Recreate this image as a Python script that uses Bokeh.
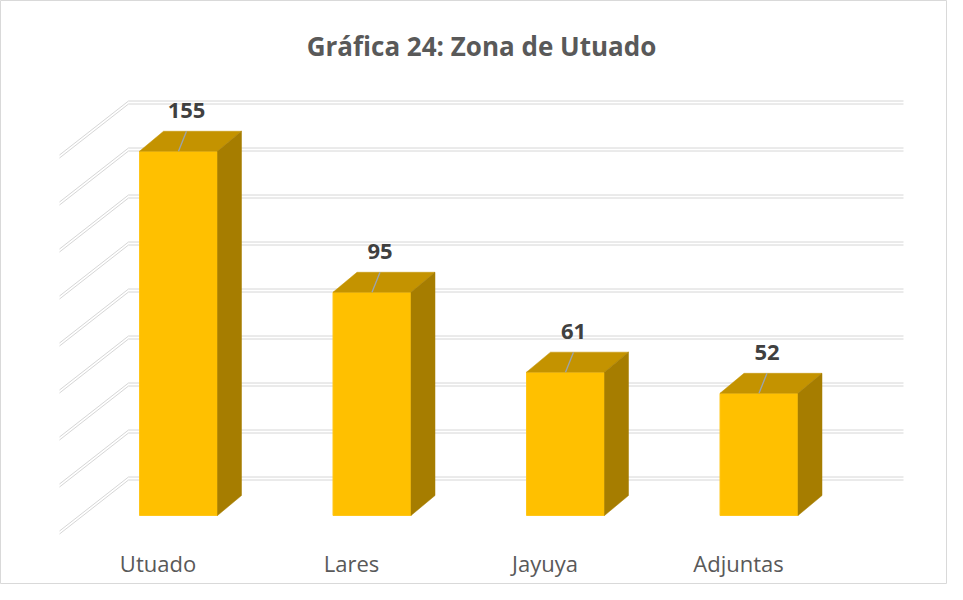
from bokeh.plotting import figure
from bokeh.models import Range1d, ColumnDataSource
from bokeh.embed import file_html
from bokeh.resources import INLINE
from bokeh.core.properties import value

# ---- data ----
categories = ["Utuado", "Lares", "Jayuya", "Adjuntas"]
counts = [155, 95, 61, 52]
grid_values = [0, 20, 40, 60, 80, 100, 120, 140, 160]
title_text = "Gráfica 24: Zona de Utuado"

# ---- layout constants (data units: x = category index, y = value) ----
PX_X = 193.5          # pixels per category unit
PX_Y = 2.35           # pixels per value unit
X0 = 178              # pixel of first category (front face centre)
Y0 = 478              # pixel of value 0 on back wall
W = 78 / PX_X         # bar front width
DDX = 24 / PX_X       # bar depth offset x
DDY = 20 / PX_Y       # bar depth offset y
FRONT_BASE = -37 / PX_Y   # front face baseline (floor projection)
WALL_X0 = (128 - X0) / PX_X   # back wall left edge
WALL_X1 = (903 - X0) / PX_X   # back wall right edge
SIDE_DX = -69 / PX_X           # left wall depth x
SIDE_DY = -54 / PX_Y           # left wall depth y
DOUBLE = 1.5 / PX_Y            # half gap of double grid lines
TEXT_FIX = 10 / PX_Y           # compensation for svg text baseline

FONT = "Open Sans"
WIDTH, HEIGHT = 947, 584

p = figure(width=WIDTH, height=HEIGHT, output_backend="svg", toolbar_location=None,
           x_range=Range1d((0 - X0) / PX_X, (WIDTH - X0) / PX_X),
           y_range=Range1d((Y0 - HEIGHT) / PX_Y, Y0 / PX_Y),
           x_axis_location=None, y_axis_location=None, min_border=0)
p.grid.visible = False
p.outline_line_color = "#D9D9D9"
p.background_fill_color = "white"
p.border_fill_color = "white"

# ---- back wall grid lines (double thin lines) ----
gx, gy = [], []
for g in grid_values:
    for s in (DOUBLE, -DOUBLE):
        gx.append([WALL_X0, WALL_X1])
        gy.append([g + s, g + s])
        gx.append([WALL_X0, WALL_X0 + SIDE_DX])
        gy.append([g + s, g + s + SIDE_DY])
p.multi_line(gx, gy, line_color="#D6D6D6", line_width=1)

# ---- bars ----
xs = list(range(len(categories)))
left = [x - W / 2 for x in xs]
right = [x + W / 2 for x in xs]
tops = [FRONT_BASE + c for c in counts]

front = ColumnDataSource(dict(left=left, right=right, top=tops,
                              bottom=[FRONT_BASE] * len(xs)))
p.quad(left="left", right="right", top="top", bottom="bottom", source=front,
       fill_color="#FFC000", line_color="#FFC61A", line_width=1)

top_xs = [[l, r, r + DDX, l + DDX] for l, r in zip(left, right)]
top_ys = [[t, t, t + DDY, t + DDY] for t in tops]
p.patches(top_xs, top_ys, fill_color="#C49300", line_color="#C49300", line_width=0.5)

side_xs = [[r, r, r + DDX, r + DDX] for r in right]
side_ys = [[FRONT_BASE, t, t + DDY, FRONT_BASE + DDY] for t in tops]
p.patches(side_xs, side_ys, fill_color="#A67D00", line_color="#A67D00", line_width=0.5)

# ---- leader lines and value labels ----
LDX = 8 / PX_X
LDY = 20 / PX_Y
lx = [[x, x + LDX] for x in xs]
ly = [[t, t + LDY] for t in tops]
p.multi_line(lx, ly, line_color="#9AA4B0", line_width=1.3)

p.text(x=[x + LDX for x in xs], y=[t + LDY + 11 / PX_Y + TEXT_FIX for t in tops],
       text=[str(c) for c in counts], text_font=value(FONT), text_font_style="bold",
       text_font_size="22px", text_color="#404040", text_align="center",
       text_baseline="alphabetic")

# ---- category labels ----
p.text(x=[x - 20.5 / PX_X for x in xs], y=[(Y0 - 572) / PX_Y + TEXT_FIX] * len(xs),
       text=categories, text_font=value(FONT), text_font_size="22px",
       text_color="#595959", text_align="center", text_baseline="alphabetic")

# ---- title ----
p.text(x=[(481 - X0) / PX_X], y=[(Y0 - 55) / PX_Y + TEXT_FIX], text=[title_text],
       text_font=value(FONT), text_font_style="bold", text_font_size="26px",
       text_color="#595959", text_align="center", text_baseline="alphabetic")

open("out.html", "w").write(file_html(p, INLINE))
